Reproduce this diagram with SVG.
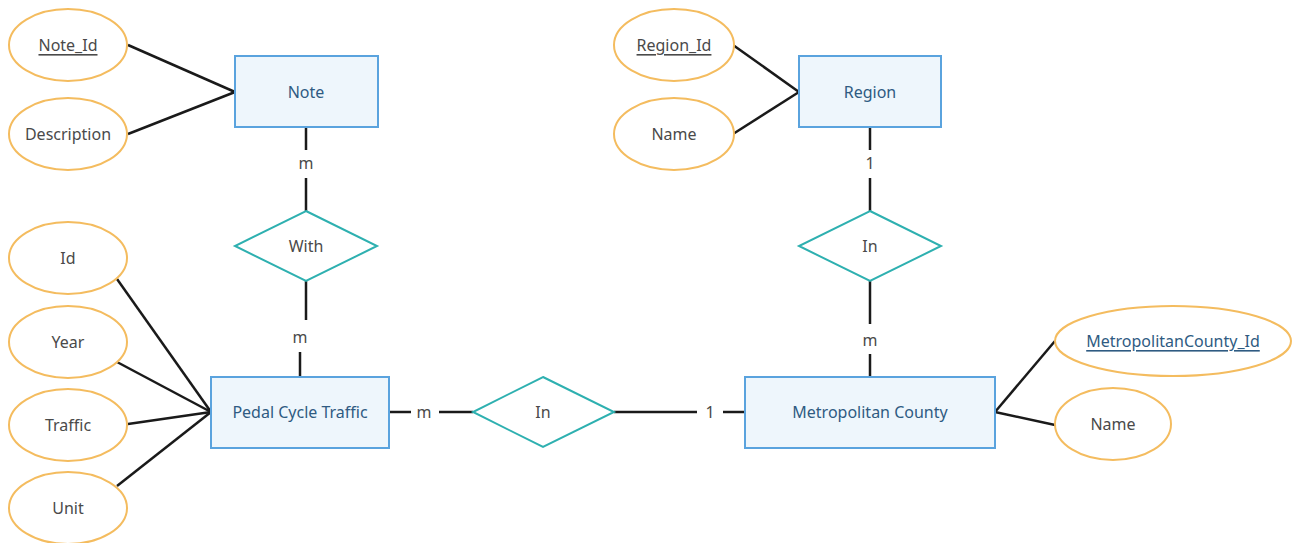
<svg xmlns="http://www.w3.org/2000/svg" width="1296" height="543" viewBox="0 0 1296 543">
<style>
.ent{fill:#eef6fc;stroke:#5aa3de;stroke-width:2}
.rel{fill:#ffffff;stroke:#2eb0b0;stroke-width:2}
.att{fill:#ffffff;stroke:#f4bc5f;stroke-width:2}
.et{font-family:"Noto Sans","Open Sans",sans-serif;font-size:16px;fill:#2f5b82;text-anchor:middle;dominant-baseline:central}
.at{font-family:"Noto Sans","Open Sans",sans-serif;font-size:16px;fill:#4a4a4a;text-anchor:middle;dominant-baseline:central}
.u{text-decoration:underline}
.ln{stroke:#1a1a1a;stroke-width:2.5;fill:none}
.lb{font-family:"Noto Sans","Open Sans",sans-serif;font-size:16px;fill:#4a4a4a;text-anchor:middle;dominant-baseline:central}
</style>
<rect width="1296" height="543" fill="#ffffff"/>
<g id="connectors">
<line class="ln" x1="128" y1="45" x2="235" y2="92"/>
<line class="ln" x1="128" y1="134" x2="235" y2="92"/>
<line class="ln" x1="733" y1="45" x2="799" y2="92"/>
<line class="ln" x1="733" y1="134" x2="799" y2="92"/>
<line class="ln" x1="306" y1="127" x2="306" y2="150"/>
<text class="lb" x="306" y="163">m</text>
<line class="ln" x1="306" y1="178" x2="306" y2="211"/>
<line class="ln" x1="306" y1="281" x2="306" y2="320"/>
<text class="lb" x="300" y="337">m</text>
<line class="ln" x1="300" y1="352" x2="300" y2="377"/>
<line class="ln" x1="870" y1="127" x2="870" y2="150"/>
<text class="lb" x="870" y="163">1</text>
<line class="ln" x1="870" y1="178" x2="870" y2="211"/>
<line class="ln" x1="870" y1="281" x2="870" y2="324"/>
<text class="lb" x="870" y="340">m</text>
<line class="ln" x1="870" y1="354" x2="870" y2="377"/>
<line class="ln" x1="389" y1="412" x2="411" y2="412"/>
<text class="lb" x="424" y="412">m</text>
<line class="ln" x1="439" y1="412" x2="473" y2="412"/>
<line class="ln" x1="614" y1="412" x2="697" y2="412"/>
<text class="lb" x="710" y="412">1</text>
<line class="ln" x1="723" y1="412" x2="745" y2="412"/>
<line class="ln" x1="117" y1="279" x2="211" y2="412"/>
<line class="ln" x1="117" y1="362" x2="211" y2="412"/>
<line class="ln" x1="128" y1="424" x2="211" y2="412"/>
<line class="ln" x1="117" y1="486" x2="211" y2="412"/>
<line class="ln" x1="995" y1="412" x2="1055" y2="341"/>
<line class="ln" x1="995" y1="412" x2="1055" y2="425"/>
</g>
<g id="note"><rect class="ent" x="235" y="56" width="143" height="71"/><text class="et" x="306" y="92">Note</text></g>
<g id="region"><rect class="ent" x="799" y="56" width="142" height="71"/><text class="et" x="870" y="92">Region</text></g>
<g id="pedal"><rect class="ent" x="211" y="377" width="178" height="71"/><text class="et" x="300" y="412">Pedal Cycle Traffic</text></g>
<g id="metro"><rect class="ent" x="745" y="377" width="250" height="71"/><text class="et" x="870" y="412">Metropolitan County</text></g>
<g id="with"><polygon class="rel" points="306,211 377,246 306,281 235,246"/><text class="at" x="306" y="246">With</text></g>
<g id="in-top"><polygon class="rel" points="870,211 941,246 870,281 799,246"/><text class="at" x="870" y="246">In</text></g>
<g id="in-bottom"><polygon class="rel" points="543,377 614,412 543,447 473,412"/><text class="at" x="543" y="412">In</text></g>
<g id="note-id"><ellipse class="att" cx="68" cy="45" rx="59" ry="36"/><text class="at u" x="68" y="45">Note_Id</text></g>
<g id="description"><ellipse class="att" cx="68" cy="134" rx="59" ry="36"/><text class="at" x="68" y="134">Description</text></g>
<g id="region-id"><ellipse class="att" cx="674" cy="45" rx="60" ry="36"/><text class="at u" x="674" y="45">Region_Id</text></g>
<g id="region-name"><ellipse class="att" cx="674" cy="134" rx="60" ry="36"/><text class="at" x="674" y="134">Name</text></g>
<g id="id"><ellipse class="att" cx="68" cy="258" rx="59" ry="36"/><text class="at" x="68" y="258">Id</text></g>
<g id="year"><ellipse class="att" cx="68" cy="342" rx="59" ry="36"/><text class="at" x="68" y="342">Year</text></g>
<g id="traffic"><ellipse class="att" cx="68" cy="425" rx="59" ry="36"/><text class="at" x="68" y="425">Traffic</text></g>
<g id="unit"><ellipse class="att" cx="68" cy="508" rx="59" ry="36"/><text class="at" x="68" y="508">Unit</text></g>
<g id="mc-id"><ellipse class="att" cx="1173" cy="341" rx="118" ry="35"/><text class="et u" x="1173" y="341">MetropolitanCounty_Id</text></g>
<g id="mc-name"><ellipse class="att" cx="1113" cy="424" rx="58" ry="36"/><text class="at" x="1113" y="424">Name</text></g>
</svg>
